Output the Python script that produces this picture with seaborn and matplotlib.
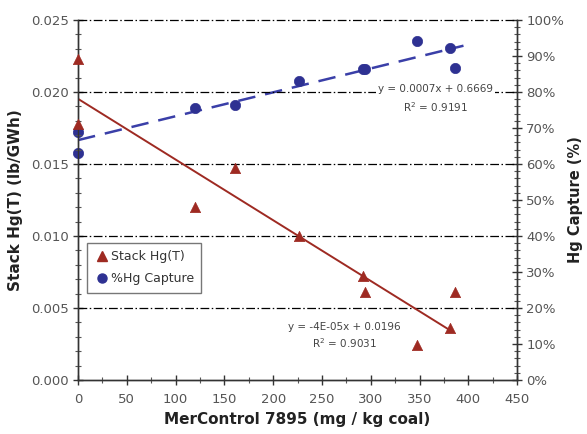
import matplotlib
matplotlib.use("Agg")
import matplotlib.pyplot as plt
from matplotlib.lines import Line2D
from matplotlib.ticker import MultipleLocator, PercentFormatter
import numpy as np
import pandas as pd
import seaborn as sns

# MerControl 7895 injection rate (mg / kg coal)
stack_x = [0, 0, 120, 161, 226, 292, 294, 347, 381, 386]
stack_hg = [0.0223, 0.0178, 0.0120, 0.0147, 0.0100, 0.0072, 0.0061, 0.0024, 0.0036, 0.0061]

capture_x = [0, 0, 120, 161, 226, 292, 294, 347, 381, 386]
capture_pct = [0.689, 0.630, 0.756, 0.765, 0.830, 0.864, 0.864, 0.942, 0.922, 0.867]

x_ticks = [0, 50, 100, 150, 200, 250, 300, 350, 400, 450]

RED = "#9e2a22"
BLUE = "#2e3192"
TICK_GREY = "#555555"
HG_MAX = 0.025  # left axis top, maps to 100 % on the right axis

sns.set_style("white")
plt.rcParams["font.family"] = ["DejaVu Sans"]

fig = plt.figure(figsize=(5.87, 4.34), dpi=100)
ax = fig.add_axes([0.133, 0.1244, 0.748, 0.8295])
ax2 = ax.twinx()

stack = pd.DataFrame({"x": stack_x, "y": stack_hg})
capture = pd.DataFrame({"x": capture_x, "y": capture_pct})

# linear trendlines fitted to the data (Excel style)
m1, b1 = np.polyfit(stack["x"], stack["y"], 1)
m2, b2 = np.polyfit(capture["x"], capture["y"], 1)
fit_x = np.array([0, 383])
fit_x2 = np.array([0, 395])
sns.lineplot(x=fit_x, y=m1 * fit_x + b1, color=RED, lw=1.4, ax=ax)
sns.lineplot(x=fit_x2, y=m2 * fit_x2 + b2, color="#3a3fa8", lw=1.8, ax=ax2)
ax2.lines[0].set_dashes([7, 4])

sns.scatterplot(data=stack, x="x", y="y", marker="^", s=55, color=RED,
                edgecolor=RED, linewidth=0.5, ax=ax, zorder=4, clip_on=False)
sns.scatterplot(data=capture, x="x", y="y", marker="o", s=55, color=BLUE,
                edgecolor=BLUE, linewidth=0.5, ax=ax2, zorder=4, clip_on=False)

ax.set_xlim(0, 450)
ax.set_ylim(0, HG_MAX)
ax2.set_ylim(0, 1.0)

# dash-dot horizontal gridlines
for yv in [0.005, 0.010, 0.015, 0.020, 0.025]:
    ax.axhline(yv, color="black", lw=0.9, ls=(0, (7, 2, 1.2, 2)), zorder=1,
               clip_on=False)

ax.set_xticks(x_ticks)
ax.xaxis.set_minor_locator(MultipleLocator(25))
ax.yaxis.set_major_locator(MultipleLocator(0.005))
ax.yaxis.set_minor_locator(MultipleLocator(0.001))
ax.yaxis.set_major_formatter(lambda v, p: f"{v:.3f}")
ax2.yaxis.set_major_locator(MultipleLocator(0.1))
ax2.yaxis.set_minor_locator(MultipleLocator(0.02))
ax2.yaxis.set_major_formatter(PercentFormatter(1.0, decimals=0))

for a in (ax, ax2):
    a.tick_params(which="major", direction="inout", length=7, width=1,
                  color="#333333", labelsize=9.5, labelcolor=TICK_GREY, pad=3)
    a.tick_params(which="minor", direction="inout", length=4, width=0.8,
                  color="#555555")
    for side in ("left", "right", "bottom"):
        a.spines[side].set_color("#333333")
        a.spines[side].set_linewidth(1)
    a.spines["top"].set_visible(False)
ax.tick_params(axis="x", which="both", bottom=True, top=False)
ax.tick_params(axis="y", which="both", left=True, right=False)
ax2.tick_params(axis="y", which="both", right=True, left=False)
ax.tick_params(axis="x", pad=6)

ax.set_xlabel("MerControl 7895 (mg / kg coal)", fontsize=11, fontweight="bold",
              color="#222222", labelpad=4)
ax.set_ylabel("Stack Hg(T) (lb/GWh)", fontsize=11, fontweight="bold",
              color="#222222", labelpad=6)
ax2.set_ylabel("Hg Capture (%)", fontsize=10.5, fontweight="bold",
               color="#222222", labelpad=3)

# trendline equations (drawn on the top axes so they can mask the gridline)
box = dict(facecolor="white", edgecolor="none", pad=1.5)
ax.text(366, 0.808 * HG_MAX, "y = 0.0007x + 0.6669", fontsize=7.5,
        color="#444444", ha="center", va="center", bbox=box, zorder=3)
ax.text(366, 0.758 * HG_MAX, "R$^2$ = 0.9191", fontsize=7.5,
        color="#444444", ha="center", va="center", zorder=3)
ax.text(273, 0.00368, "y = -4E-05x + 0.0196", fontsize=7.5, color="#444444",
        ha="center", va="center", zorder=3)
ax.text(273, 0.00255, "R$^2$ = 0.9031", fontsize=7.5, color="#444444",
        ha="center", va="center", zorder=3)

handles = [
    Line2D([], [], marker="^", ls="none", color=RED, markersize=7),
    Line2D([], [], marker="o", ls="none", color=BLUE, markersize=6.5),
]
leg = ax.legend(handles, ["Stack Hg(T)", "%Hg Capture"], loc="upper left",
                bbox_to_anchor=(0.0205, 0.381), borderaxespad=0, frameon=True,
                fancybox=False, fontsize=9, handletextpad=0.1, borderpad=0.6,
                handlelength=1.2, labelspacing=0.7)
leg.get_frame().set_edgecolor("#555555")
leg.get_frame().set_linewidth(1)
for t in leg.get_texts():
    t.set_color("#333333")
leg.set_zorder(10)

ax.set_zorder(ax2.get_zorder() + 1)
ax.patch.set_visible(False)

fig.savefig("out.png", dpi=100)
